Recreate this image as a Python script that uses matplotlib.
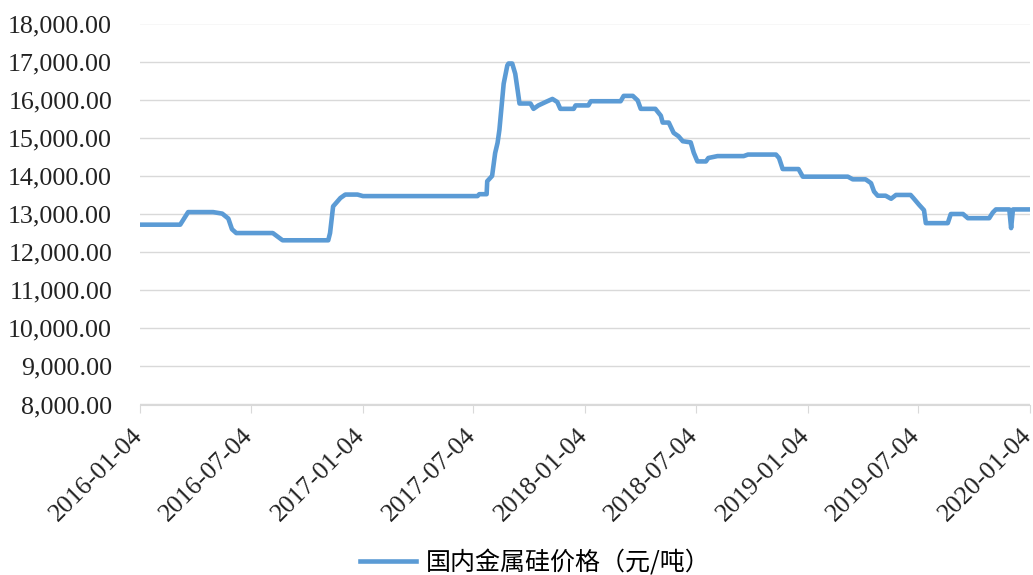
import matplotlib
matplotlib.use("Agg")
import matplotlib.pyplot as plt
import matplotlib.ticker as mticker
import matplotlib.transforms as mtransforms
import pandas as pd

dates = ["2016-01-04", "2016-03-10", "2016-03-23", "2016-05-03", "2016-05-18", "2016-05-28",
         "2016-06-03", "2016-06-10", "2016-08-09", "2016-08-25", "2016-11-08", "2016-11-11",
         "2016-11-16", "2016-11-28", "2016-12-06", "2016-12-26", "2017-01-04", "2017-07-11",
         "2017-07-14", "2017-07-26", "2017-07-27", "2017-08-04", "2017-08-09", "2017-08-13",
         "2017-08-16", "2017-08-23", "2017-08-29", "2017-08-31", "2017-09-06", "2017-09-11",
         "2017-09-15", "2017-09-18", "2017-10-06", "2017-10-11", "2017-10-19", "2017-10-31",
         "2017-11-11", "2017-11-19", "2017-11-24", "2017-12-16", "2017-12-19", "2018-01-09",
         "2018-01-13", "2018-03-03", "2018-03-08", "2018-03-23", "2018-03-31", "2018-04-05",
         "2018-04-29", "2018-05-08", "2018-05-11", "2018-05-21", "2018-05-29", "2018-06-06",
         "2018-06-13", "2018-06-26", "2018-07-01", "2018-07-07", "2018-07-21", "2018-07-25",
         "2018-08-09", "2018-09-21", "2018-09-28", "2018-11-13", "2018-11-18", "2018-11-24",
         "2018-12-20", "2018-12-27", "2019-03-11", "2019-03-19", "2019-04-09", "2019-04-18",
         "2019-04-23", "2019-04-29", "2019-05-12", "2019-05-21", "2019-05-29", "2019-06-22",
         "2019-06-27", "2019-07-06", "2019-07-14", "2019-07-17", "2019-08-22", "2019-08-27",
         "2019-09-16", "2019-09-24", "2019-10-29", "2019-11-04", "2019-11-09", "2019-12-01",
         "2019-12-04", "2019-12-07", "2020-01-04"]
prices = [12720, 12720, 13050, 13050, 13010, 12880,
          12600, 12500, 12500, 12310, 12310, 12500,
          13200, 13420, 13510, 13510, 13470, 13470,
          13520, 13520, 13860, 14000, 14600, 14870,
          15210, 16420, 16900, 16950, 16950, 16680,
          16240, 15900, 15900, 15760, 15850, 15940,
          16020, 15940, 15760, 15760, 15850, 15850,
          15960, 15960, 16100, 16100, 15980, 15760,
          15760, 15580, 15400, 15400, 15130, 15040,
          14910, 14880, 14610, 14380, 14380, 14470,
          14520, 14520, 14560, 14560, 14470, 14180,
          14180, 13980, 13980, 13910, 13910, 13810,
          13590, 13480, 13480, 13400, 13500, 13500,
          13410, 13240, 13100, 12760, 12760, 13000,
          13000, 12890, 12890, 13040, 13120, 13120,
          12630, 13120, 13120]
tick_labels = ["2016-01-04", "2016-07-04", "2017-01-04", "2017-07-04", "2018-01-04",
               "2018-07-04", "2019-01-04", "2019-07-04", "2020-01-04"]
series_name = "国内金属硅价格（元/吨）"

x = pd.to_datetime(dates)
ticks = pd.to_datetime(tick_labels)

fig = plt.figure(figsize=(10.33, 5.75), dpi=100)
ax = fig.add_axes([140/1033, 1-404.5/575, 890/1033, 381/575])

line, = ax.plot(x, prices, color="#5b9bd5", lw=3.3, solid_joinstyle="round", label=series_name)

ax.set_ylim(8000, 18000)
ax.set_xlim(ticks[0], ticks[-1])
ax.yaxis.set_major_locator(mticker.MultipleLocator(1000))
ax.yaxis.set_major_formatter(mticker.FuncFormatter(lambda v, p: f"{v:,.2f}"))
ax.grid(axis="y", color="#d9d9d9", lw=1)
ax.set_axisbelow(True)
for s in ["left", "right", "top"]:
    ax.spines[s].set_visible(False)
ax.spines["bottom"].set_color("#d9d9d9")
ax.tick_params(axis="y", length=0, pad=20)
ax.tick_params(axis="x", length=6, color="#d9d9d9", pad=2)
ax.set_xticks(ticks)
ax.set_xticklabels(tick_labels, rotation=45, ha="right", va="top", rotation_mode="anchor")
offset = mtransforms.ScaledTranslation(-9/100, -9/100, fig.dpi_scale_trans)
for lab in ax.get_xticklabels():
    lab.set_transform(lab.get_transform() + offset)
for lab in ax.get_yticklabels() + ax.get_xticklabels():
    lab.set_family("Liberation Serif")
    lab.set_fontsize(18.7)
    lab.set_color("#222222")

fig.legend(handles=[line], labels=[series_name], loc="center",
           bbox_to_anchor=(535/1033, 1-563/575), frameon=False,
           prop={"family": ["Noto Sans CJK SC"], "size": 18},
           handlelength=2.25, handletextpad=0.4)

fig.savefig("out.png", dpi=100)
